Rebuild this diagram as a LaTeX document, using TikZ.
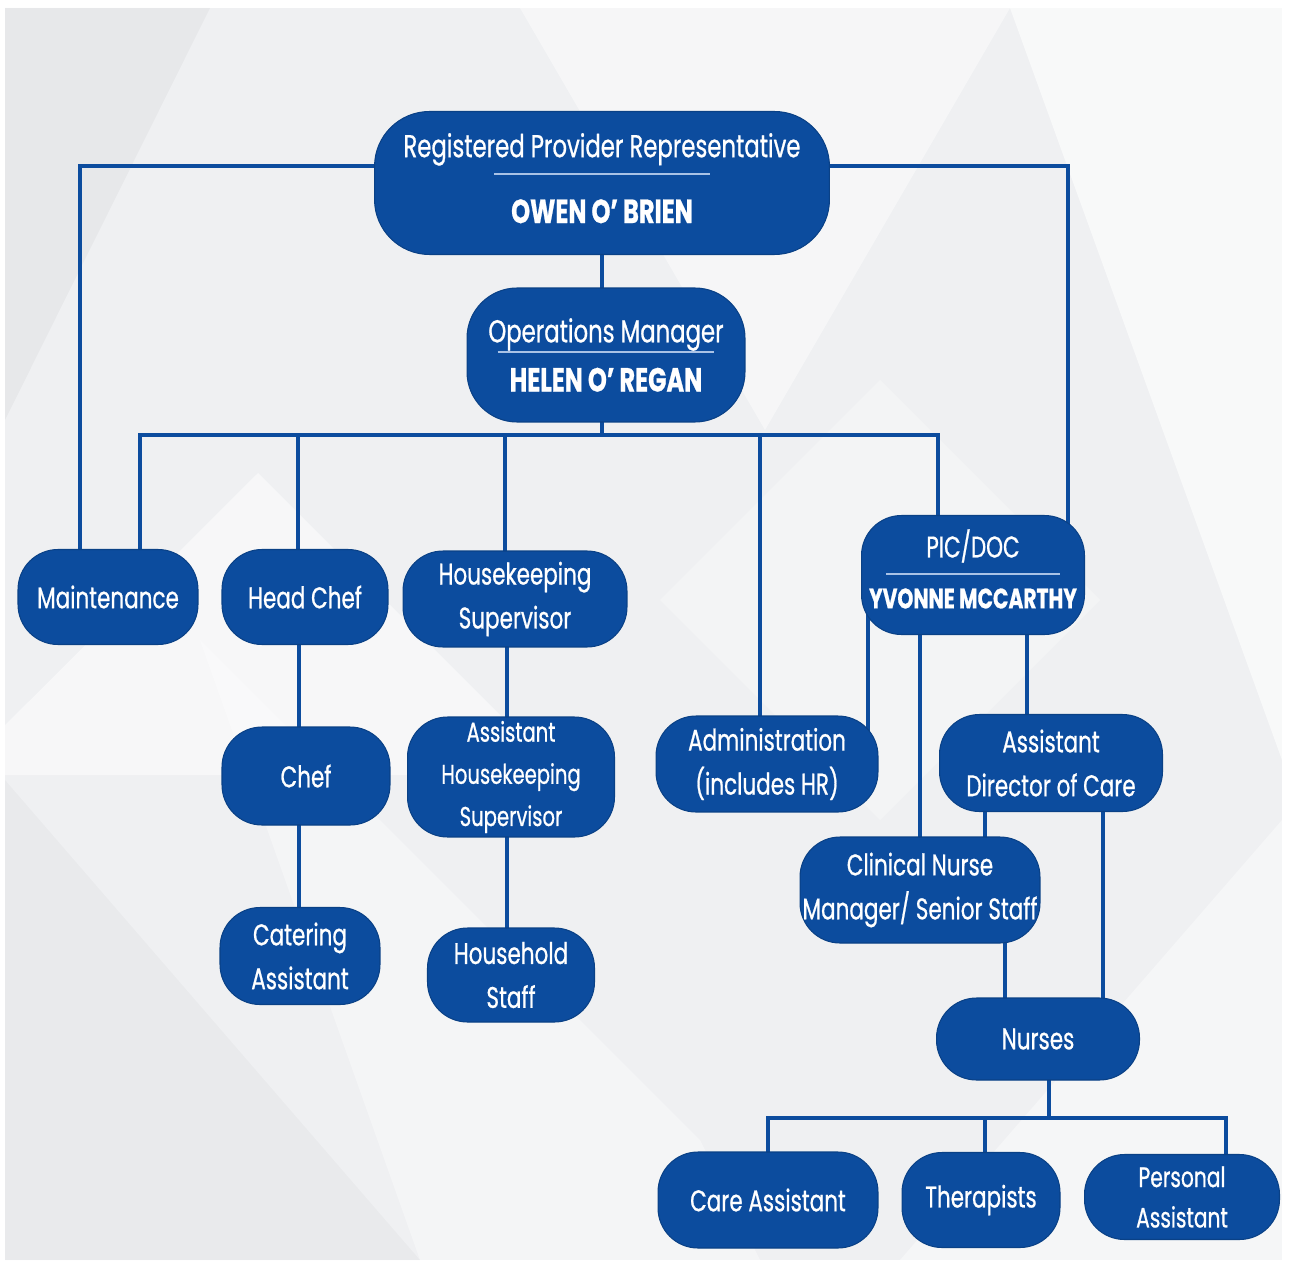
\documentclass[tikz,border=0pt]{standalone}
\usepackage{fontspec}
\setmainfont[FakeStretch=0.72,RawFeature={embolden=0.7}]{Poppins}
\usetikzlibrary{backgrounds,calc}
\definecolor{orgblue}{HTML}{0C4C9E}
\definecolor{sepblue}{HTML}{A9C2E6}
\definecolor{bggrey}{HTML}{EFF0F2}

\begin{document}
\begin{tikzpicture}[
		x=0.02cm, y=-0.02cm,
		role node/.style={rectangle, rounded corners=0.8cm, fill=orgblue, draw=orgblue!85!black, line width=0.6pt, text=white, align=center, inner sep=0pt, font=\fontsize{17}{25}\selectfont},
		head node/.style={role node, rounded corners=1.1cm, font=\fontsize{18}{25}\selectfont},
		link/.style={draw=orgblue, line width=2.2pt}]

	\useasboundingbox (0,0) rectangle (1290,1260);

	\node[head node, minimum width=9.1cm, minimum height=2.86cm] (rpr) at (602,183)
		{Registered Provider Representative\\[-15pt]\textcolor{sepblue}{\rule{4.32cm}{1.2pt}}\\[2.5pt]{\fontsize{19}{25}\selectfont\textbf{OWEN O' BRIEN}\rule[-5.6pt]{0pt}{0pt}}};
	\node[head node, rounded corners=1cm, minimum width=5.56cm, minimum height=2.68cm] (ops) at (606,355)
		{Operations Manager\\[-19pt]\textcolor{sepblue}{\rule{4.34cm}{1.2pt}}\\[-3pt]{\fontsize{19}{25}\selectfont\textbf{HELEN O' REGAN}}};

	\node[role node, minimum width=3.6cm, minimum height=1.9cm] (maint) at (108,597) {Maintenance};
	\node[role node, minimum width=3.32cm, minimum height=1.9cm] (headchef) at (305,597) {Head Chef};
	\node[role node, minimum width=4.48cm, minimum height=1.92cm] (hksup) at (515,599) {Housekeeping\\Supervisor};
	\node[role node, minimum width=4.46cm, minimum height=2.38cm] (picdoc) at (973,575)
		{PIC/DOC\\[-15pt]\textcolor{sepblue}{\rule{3.48cm}{1.2pt}}\\[-6pt]{\fontsize{16}{25}\selectfont\bfseries YVONNE MCCARTHY\rule[-7pt]{0pt}{0pt}}};

	\node[role node, minimum width=3.36cm, minimum height=1.96cm] (chef) at (306,776) {Chef};
	\node[role node, minimum width=4.14cm, minimum height=2.4cm, font=\fontsize{15.5}{24}\selectfont] (ahks) at (511,777) {Assistant\\Housekeeping\\Supervisor};
	\node[role node, minimum width=4.44cm, minimum height=1.92cm] (admin) at (767,764) {Administration\\(includes HR)};
	\node[role node, minimum width=4.46cm, minimum height=1.94cm] (adoc) at (1051,763) {Assistant\\Director of Care};
	\node[role node, minimum width=4.8cm, minimum height=2.12cm] (cnm) at (920,890) {Clinical Nurse\\Manager/ Senior Staff};

	\node[role node, minimum width=3.2cm, minimum height=1.94cm] (cater) at (300,956) {Catering\\Assistant};
	\node[role node, minimum width=3.34cm, minimum height=1.88cm] (house) at (511,975) {Household\\Staff};
	\node[role node, minimum width=4.06cm, minimum height=1.64cm] (nurses) at (1038,1039) {Nurses};

	\node[role node, minimum width=4.4cm, minimum height=1.92cm] (careasst) at (768,1200) {Care Assistant};
	\node[role node, minimum width=3.16cm, minimum height=1.9cm] (therap) at (981,1200) {Therapists};
	\node[role node, minimum width=3.9cm, minimum height=1.7cm, font=\fontsize{16}{23}\selectfont] (persasst) at (1182,1197) {Personal\\Assistant};

	\coordinate (opsbus) at (602,435);
	\coordinate (nursebus) at (1049,1118);

	\begin{scope}[on background layer]
		\fill[white] (0,0) rectangle (1290,1260);
		\begin{scope}
			\clip (5,8) rectangle (1282,1260);
			\fill[bggrey] (5,8) rectangle (1282,1260);
			\fill[black, opacity=0.03] (5,8) -- (210,8) -- (5,420) -- cycle;
			\fill[white, opacity=0.45] (520,8) -- (1010,8) -- (765,430) -- cycle;
			\fill[white, opacity=0.6] (1010,8) -- (1282,8) -- (1282,760) -- cycle;
			\fill[white, opacity=0.5] (258,473) -- (560,775) -- (-45,775) -- cycle;
			\fill[white, opacity=0.3] (660,600) -- (880,380) -- (1100,600) -- (880,820) -- cycle;
			\fill[black, opacity=0.025] (5,780) -- (420,1260) -- (5,1260) -- cycle;
			\fill[white, opacity=0.35] (200,640) -- (700,1140) -- (760,1260) -- (420,1260) -- cycle;
			\fill[white, opacity=0.4] (1282,820) -- (1282,1260) -- (900,1260) -- cycle;
		\end{scope}

		\draw[link] ([yshift=0.34cm]rpr.west) -| ([xshift=-0.56cm]maint.center);
		\draw[link] ([yshift=0.34cm]rpr.east) -| ([xshift=1.9cm]picdoc.center);
		\draw[link] (rpr.center) -- (rpr.center |- ops.center);
		\draw[link] (opsbus) -- (opsbus |- ops.center);
		\draw[link] ([xshift=0.64cm]maint.center) |- (opsbus) -| ([xshift=-0.7cm]picdoc.center);
		\draw[link] ([xshift=-0.14cm]headchef.center) |- (opsbus);
		\draw[link] ([xshift=-0.2cm]hksup.center) |- (opsbus);
		\draw[link] ([xshift=-0.14cm]admin.center) |- (opsbus);

		\draw[link] ([xshift=-0.12cm]headchef.center) -- ([xshift=-0.12cm]headchef.center |- cater.center);
		\draw[link] ([xshift=-0.16cm]hksup.center) -- ([xshift=-0.16cm]hksup.center |- house.center);

		\draw[link] ([xshift=-2.1cm]picdoc.center) -- ([xshift=-2.1cm]picdoc.center |- admin.center);
		\draw[link] ([xshift=-1.06cm]picdoc.center) -- ([xshift=-1.06cm]picdoc.center |- cnm.center);
		\draw[link] ([xshift=1.08cm]picdoc.center) -- ([xshift=1.08cm]picdoc.center |- adoc.center);
		\draw[link] ([xshift=-1.32cm]adoc.center) -- ([xshift=-1.32cm]adoc.center |- cnm.center);
		\draw[link] ([xshift=1.04cm]adoc.center) -- ([xshift=1.04cm]adoc.center |- nurses.center);
		\draw[link] ([xshift=1.7cm]cnm.center) -- ([xshift=1.7cm]cnm.center |- nurses.center);

		\draw[link] (nursebus) -- (nursebus |- nurses.center);
		\draw[link] (careasst.center) |- (nursebus) -| ([xshift=0.88cm]persasst.center);
		\draw[link] ([xshift=0.08cm]therap.center) |- (nursebus);
	\end{scope}
\end{tikzpicture}
\end{document}
